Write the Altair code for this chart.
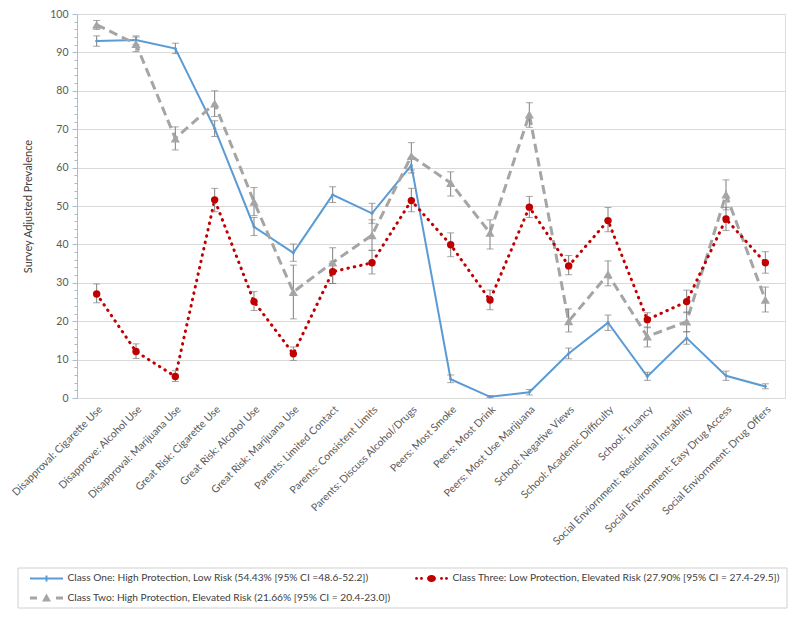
import altair as alt
import pandas as pd

categories = [
    "Disapproval: Cigarette Use", "Disapprove: Alcohol Use", "Disapproval: Marijuana Use",
    "Great Risk: Cigarette Use", "Great Risk: Alcohol Use", "Great Risk: Marijuana Use",
    "Parents: Limited Contact", "Parents: Consistent Limits", "Parents: Discuss Alcohol/Drugs",
    "Peers: Most Smoke", "Peers: Most Drink", "Peers: Most Use Marijuana",
    "School: Negative Views", "School: Academic Difficulty", "School: Truancy",
    "Social Enviornment: Residential Instability", "Social Environment: Easy Drug Access",
    "Social Enviornment: Drug Offers",
]

class_one = "Class One: High Protection, Low Risk (54.43% [95% CI =48.6-52.2])"
class_two = "Class Two: High Protection, Elevated Risk (21.66% [95% CI = 20.4-23.0])"
class_three = "Class Three: Low Protection, Elevated Risk (27.90% [95% CI = 27.4-29.5])"

one_val = [93.0, 93.2, 91.0, 70.2, 44.6, 37.8, 52.9, 48.1, 60.6, 4.9, 0.3, 1.5, 11.6, 19.6, 5.6, 15.6, 5.8, 3.0]
one_lo = [91.6, 92.1, 89.7, 68.1, 42.3, 35.6, 50.9, 45.5, 58.6, 4.0, 0.1, 0.8, 10.2, 17.6, 4.6, 14.0, 4.6, 2.4]
one_hi = [94.3, 94.3, 92.4, 72.2, 47.0, 40.1, 55.0, 50.7, 62.6, 6.0, 0.6, 2.2, 13.0, 21.6, 6.7, 17.3, 7.0, 3.7]

two_val = [97.2, 92.2, 67.6, 76.7, 51.1, 27.6, 35.3, 42.4, 63.0, 56.0, 43.0, 73.8, 20.0, 32.2, 16.0, 19.9, 53.0, 25.6]
two_lo = [96.0, 90.2, 64.6, 73.3, 47.5, 20.6, 29.8, 38.5, 59.4, 52.6, 38.8, 70.5, 17.2, 29.2, 13.3, 17.2, 49.0, 22.4]
two_hi = [98.3, 94.0, 70.6, 80.0, 54.8, 34.6, 39.1, 46.4, 66.5, 58.9, 46.4, 76.9, 23.2, 35.7, 18.5, 22.4, 56.8, 28.9]

three_val = [27.1, 12.1, 5.6, 51.6, 25.1, 11.5, 32.9, 35.2, 51.4, 39.9, 25.5, 49.7, 34.4, 46.2, 20.4, 25.1, 46.6, 35.2]
three_lo = [24.8, 10.3, 4.3, 48.5, 22.8, 9.8, 29.8, 32.3, 48.5, 36.8, 23.0, 47.0, 32.1, 43.3, 18.3, 22.2, 43.6, 32.5]
three_hi = [29.7, 14.1, 7.1, 54.6, 27.7, 13.3, 35.6, 38.4, 54.6, 43.0, 28.1, 52.5, 37.1, 49.6, 22.2, 28.1, 49.6, 38.1]

y_ticks = list(range(0, 101, 2))

rows = []
for name, vals, los, his in [
    (class_one, one_val, one_lo, one_hi),
    (class_two, two_val, two_lo, two_hi),
    (class_three, three_val, three_lo, three_hi),
]:
    for c, v, lo, hi in zip(categories, vals, los, his):
        rows.append({"cat": c, "cls": name, "v": v, "lo": lo, "hi": hi})
df = pd.DataFrame(rows)

BLUE = "#5b9bd5"
GRAY = "#a5a5a5"
RED = "#c00000"
ERR = "#7f7f7f"
FONT = "Lato"

x_axis = alt.Axis(labelAngle=-45, labelFontSize=10.5, labelColor="#595959", labelFont=FONT,
                  ticks=False, domain=True, domainColor="#d9d9d9", labelPadding=6,
                  labelLimit=0, grid=False)
x_enc = alt.X("cat:N", sort=categories, title=None,
              scale=alt.Scale(type="point", padding=0.5), axis=x_axis)
y_scale = alt.Scale(domain=[0, 100], nice=False)
y_axis = alt.Axis(values=y_ticks, tickCount=200, labelOverlap=False, format="d",
                  labelExpr="datum.value % 10 === 0 ? datum.label : ''",
                  labelFontSize=10.5, labelColor="#595959", labelFont=FONT, labelPadding=4,
                  tickSize={"condition": {"test": "datum.value % 10 === 0", "value": 5}, "value": 3},
                  tickColor="#a9bfcf", domainColor="#a9bfcf",
                  grid=True, gridColor="#d9d9d9",
                  gridOpacity={"condition": {"test": "datum.value % 10 === 0", "value": 1}, "value": 0},
                  titleFont=FONT, titleFontSize=11, titleFontWeight="normal", titleColor="#404040",
                  titlePadding=16)
TITLE = "Survey Adjusted Prevalence"

def Y(field):
    return alt.Y(field, type="quantitative", scale=y_scale, title=TITLE, axis=y_axis)

base = alt.Chart(df)

def sub(name):
    return base.transform_filter(alt.datum.cls == name)

line_one = sub(class_one).mark_line(color=BLUE, strokeWidth=2).encode(x=x_enc, y=Y("v"))
line_two = sub(class_two).mark_line(color=GRAY, strokeWidth=3, strokeDash=[9, 5]).encode(
    x=x_enc, y=Y("v"))
line_three = sub(class_three).mark_line(color=RED, strokeWidth=3, strokeDash=[0.5, 6],
                                        strokeCap="round").encode(x=x_enc, y=Y("v"))

err_rule = base.mark_rule(color=ERR, strokeWidth=1).encode(x=x_enc, y=Y("lo"), y2="hi:Q")
err_lo = base.mark_tick(color=ERR, orient="horizontal", size=7, thickness=1).encode(x=x_enc, y=Y("lo"))
err_hi = base.mark_tick(color=ERR, orient="horizontal", size=7, thickness=1).encode(x=x_enc, y=Y("hi"))

pt_one = sub(class_one).mark_point(shape="diamond", filled=True, color=BLUE, size=14, opacity=1).encode(
    x=x_enc, y=Y("v"))
pt_two = sub(class_two).mark_point(shape="triangle-up", filled=True, color=GRAY, size=85, opacity=1).encode(
    x=x_enc, y=Y("v"))
pt_three = sub(class_three).mark_point(shape="circle", filled=True, color=RED, size=55, opacity=1).encode(
    x=x_enc, y=Y("v"))

# legend symbols (unit = 7px)
def rect(x0, x1, y0, y1):
    return f"M{x0},{y0}L{x1},{y0}L{x1},{y1}L{x0},{y1}Z"

def ell(cx, cy, rx, ry):
    return (f"M{cx - rx},{cy}A{rx},{ry} 0 1,0 {cx + rx},{cy}"
            f"A{rx},{ry} 0 1,0 {cx - rx},{cy}Z")

sym_one = rect(-2.36, 2.36, -0.14, 0.14) + rect(-0.14, 0.14, -0.43, 0.43)
sym_two = (rect(-2.36, -1.36, -0.21, 0.21) + rect(1.36, 2.36, -0.21, 0.21)
           + "M-0.64,0.5L0.64,0.5L0,-0.64Z")
sym_three = (ell(-2.14, 0, 0.21, 0.21) + ell(-1.43, 0, 0.21, 0.21) + ell(0, 0, 0.64, 0.5)
             + ell(1.43, 0, 0.21, 0.21) + ell(2.14, 0, 0.21, 0.21))

legend_order = [class_one, class_three, class_two]
legend_def = alt.Legend(
    title=None, orient="none", legendX=-47, legendY=557, columns=2, direction="horizontal",
    symbolSize=196, symbolOffset=9.5, labelOffset=14, labelFont=FONT, labelFontSize=10.2,
    labelColor="#404040", labelLimit=0, rowPadding=7, columnPadding=24, symbolStrokeWidth=0,
)
legend_layer = base.transform_filter("false").mark_point(filled=True, opacity=1, strokeWidth=0).encode(
    color=alt.Color("cls:N", scale=alt.Scale(domain=legend_order, range=[BLUE, RED, GRAY]),
                    sort=legend_order, legend=legend_def),
    shape=alt.Shape("cls:N", scale=alt.Scale(domain=legend_order, range=[sym_one, sym_three, sym_two]),
                    sort=legend_order, legend=legend_def),
)

frame = alt.Chart(pd.DataFrame({"a": [0]})).mark_rect(
    fill=None, stroke="#d0d0d0", strokeWidth=1).encode(
    x=alt.value(-59), x2=alt.value(710), y=alt.value(554), y2=alt.value(594))

chart = alt.layer(
    line_one, line_two, line_three, err_rule, err_lo, err_hi, pt_one, pt_two, pt_three,
    legend_layer, frame,
).properties(
    width=708, height=384,
    autosize=alt.AutoSizeParams(type="none"),
    padding={"left": 69, "top": 6, "right": 5, "bottom": 215},
).configure_view(stroke=None).configure(font=FONT)

chart.save("out.html", embed_options={"renderer": "svg", "actions": False})
